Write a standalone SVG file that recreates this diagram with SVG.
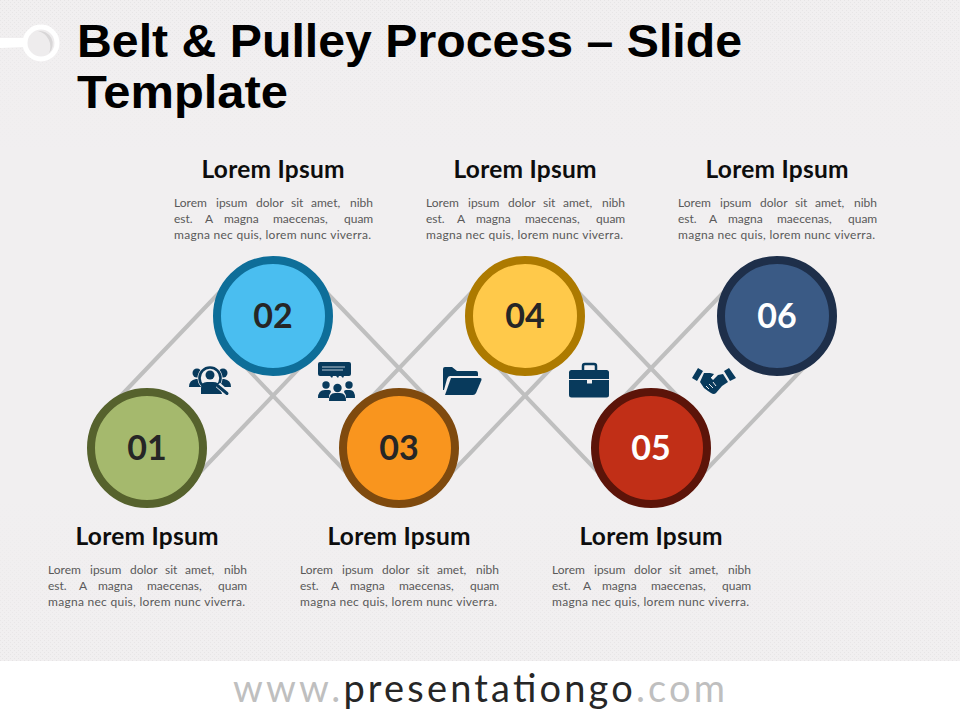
<svg xmlns="http://www.w3.org/2000/svg" width="960" height="720" viewBox="0 0 960 720">
<style>
.title{font:bold 47px "Liberation Sans",Arial,sans-serif;fill:#000}
.head{font:bold 24.5px Lato,"Noto Sans",sans-serif;fill:#0d0d0d;text-anchor:middle}
.body{font:12px Lato,"Noto Sans",sans-serif;fill:#595959}
.num{font:bold 34px Lato,"Noto Sans",sans-serif;fill:#262626;text-anchor:middle}
.belt{stroke:#bfbfbf;stroke-width:4;fill:none}
.ic{fill:#083a5c}
.cut{stroke:#f1eff0;fill:none}
.ring{stroke-width:8}
</style>
<defs>
<pattern id="dots" width="4" height="4" patternUnits="userSpaceOnUse"><rect width="1" height="1" fill="#e6e4e5"/><rect x="2" y="2" width="1" height="1" fill="#e6e4e5"/></pattern>
<linearGradient id="fadeTop" x1="0" y1="0" x2="0" y2="1"><stop offset="0" stop-color="#fff"/><stop offset="1" stop-color="#000"/></linearGradient>
<linearGradient id="fadeBot" x1="0" y1="0" x2="0" y2="1"><stop offset="0" stop-color="#000"/><stop offset="1" stop-color="#fff"/></linearGradient>
<mask id="mTop"><rect width="960" height="150" fill="url(#fadeTop)"/></mask>
<mask id="mBot"><rect y="500" width="960" height="161" fill="url(#fadeBot)"/></mask>
</defs>
<rect width="960" height="720" fill="#f1eff0"/>
<rect width="960" height="150" fill="url(#dots)" mask="url(#mTop)"/>
<rect y="500" width="960" height="161" fill="url(#dots)" mask="url(#mBot)"/>
<rect y="661" width="960" height="59" fill="#fff"/>

<g id="pulley">
<path d="M0 38L24 38L24 47L0 48Z" fill="#fff"/>
<circle cx="41" cy="43" r="16" fill="#eeeced" stroke="#fff" stroke-width="5"/>
<path d="M38 31A13 13 0 0 1 49 53A16 16 0 0 0 38 31Z" fill="#d8d6d7"/>
</g>
<text class="title" x="77" y="57" textLength="665" lengthAdjust="spacingAndGlyphs">Belt &amp; Pulley Process – Slide</text>
<text class="title" x="77" y="108" textLength="211" lengthAdjust="spacingAndGlyphs">Template</text>

<g id="connectors" class="belt">
<path d="M107.2 410L233.2 278M186.8 486L312.8 354"/>
<path d="M312.8 278L438.8 410M233.2 354L359.2 486"/>
<path d="M359.2 410L485.2 278M438.8 486L564.8 354"/>
<path d="M564.8 278L690.8 410M485.2 354L611.2 486"/>
<path d="M611.2 410L737.2 278M690.8 486L816.8 354"/>
</g>

<g id="node-01">
<circle class="ring" cx="147" cy="448" r="56" fill="#a5b96d" stroke="#56622d"/>
<text class="num" x="147" y="460">01</text>
<text class="head" x="147" y="545" textLength="143">Lorem Ipsum</text>
<text class="body" y="574"><tspan x="48">Lorem </tspan><tspan x="90">ipsum </tspan><tspan x="130">dolor </tspan><tspan x="165">sit </tspan><tspan x="185">amet, </tspan><tspan x="224">nibh</tspan></text>
<text class="body" y="590"><tspan x="48">est. </tspan><tspan x="79">A </tspan><tspan x="98">magna </tspan><tspan x="147">maecenas, </tspan><tspan x="218">quam</tspan></text>
<text class="body" x="48" y="606" textLength="197">magna nec quis, lorem nunc viverra.</text>
</g>
<g id="node-02">
<circle class="ring" cx="273" cy="316" r="56" fill="#4abef0" stroke="#0e6e99"/>
<text class="num" x="273" y="328">02</text>
<text class="head" x="273" y="178" textLength="143">Lorem Ipsum</text>
<text class="body" y="207"><tspan x="174">Lorem </tspan><tspan x="216">ipsum </tspan><tspan x="256">dolor </tspan><tspan x="291">sit </tspan><tspan x="311">amet, </tspan><tspan x="350">nibh</tspan></text>
<text class="body" y="223"><tspan x="174">est. </tspan><tspan x="205">A </tspan><tspan x="224">magna </tspan><tspan x="273">maecenas, </tspan><tspan x="344">quam</tspan></text>
<text class="body" x="174" y="239" textLength="197">magna nec quis, lorem nunc viverra.</text>
</g>
<g id="node-03">
<circle class="ring" cx="399" cy="448" r="56" fill="#f9951e" stroke="#7f4a0e"/>
<text class="num" x="399" y="460">03</text>
<text class="head" x="399" y="545" textLength="143">Lorem Ipsum</text>
<text class="body" y="574"><tspan x="300">Lorem </tspan><tspan x="342">ipsum </tspan><tspan x="382">dolor </tspan><tspan x="417">sit </tspan><tspan x="437">amet, </tspan><tspan x="476">nibh</tspan></text>
<text class="body" y="590"><tspan x="300">est. </tspan><tspan x="331">A </tspan><tspan x="350">magna </tspan><tspan x="399">maecenas, </tspan><tspan x="470">quam</tspan></text>
<text class="body" x="300" y="606" textLength="197">magna nec quis, lorem nunc viverra.</text>
</g>
<g id="node-04">
<circle class="ring" cx="525" cy="316" r="56" fill="#ffc94a" stroke="#ad7a00"/>
<text class="num" x="525" y="328">04</text>
<text class="head" x="525" y="178" textLength="143">Lorem Ipsum</text>
<text class="body" y="207"><tspan x="426">Lorem </tspan><tspan x="468">ipsum </tspan><tspan x="508">dolor </tspan><tspan x="543">sit </tspan><tspan x="563">amet, </tspan><tspan x="602">nibh</tspan></text>
<text class="body" y="223"><tspan x="426">est. </tspan><tspan x="457">A </tspan><tspan x="476">magna </tspan><tspan x="525">maecenas, </tspan><tspan x="596">quam</tspan></text>
<text class="body" x="426" y="239" textLength="197">magna nec quis, lorem nunc viverra.</text>
</g>
<g id="node-05">
<circle class="ring" cx="651" cy="448" r="56" fill="#c12f17" stroke="#5c1409"/>
<text class="num" x="651" y="460" style="fill:#fff">05</text>
<text class="head" x="651" y="545" textLength="143">Lorem Ipsum</text>
<text class="body" y="574"><tspan x="552">Lorem </tspan><tspan x="594">ipsum </tspan><tspan x="634">dolor </tspan><tspan x="669">sit </tspan><tspan x="689">amet, </tspan><tspan x="728">nibh</tspan></text>
<text class="body" y="590"><tspan x="552">est. </tspan><tspan x="583">A </tspan><tspan x="602">magna </tspan><tspan x="651">maecenas, </tspan><tspan x="722">quam</tspan></text>
<text class="body" x="552" y="606" textLength="197">magna nec quis, lorem nunc viverra.</text>
</g>
<g id="node-06">
<circle class="ring" cx="777" cy="316" r="56" fill="#3a5a85" stroke="#1e2f4a"/>
<text class="num" x="777" y="328" style="fill:#fff">06</text>
<text class="head" x="777" y="178" textLength="143">Lorem Ipsum</text>
<text class="body" y="207"><tspan x="678">Lorem </tspan><tspan x="720">ipsum </tspan><tspan x="760">dolor </tspan><tspan x="795">sit </tspan><tspan x="815">amet, </tspan><tspan x="854">nibh</tspan></text>
<text class="body" y="223"><tspan x="678">est. </tspan><tspan x="709">A </tspan><tspan x="728">magna </tspan><tspan x="777">maecenas, </tspan><tspan x="848">quam</tspan></text>
<text class="body" x="678" y="239" textLength="197">magna nec quis, lorem nunc viverra.</text>
</g>

<g id="icon-search">
<circle class="ic" cx="197" cy="373" r="4.5"/><circle class="ic" cx="223" cy="373" r="4.5"/>
<path class="ic" d="M189 387Q189 380 196 379L202 379L204 387ZM231 387Q231 380 224 379L218 379L216 387Z"/>
<circle cx="210" cy="378" r="12.5" fill="#f1eff0"/>
<circle cx="210" cy="378" r="10.5" fill="none" stroke="#083a5c" stroke-width="2.6"/>
<circle class="ic" cx="210" cy="375" r="4.5"/>
<path class="ic" d="M201 394L201 388Q201 382 207 382L213 382Q219 382 220 387L222 394Z"/>
<path d="M218 385L227 393" stroke="#f1eff0" stroke-width="6" fill="none"/>
<path d="M218 386L227 393.500" stroke="#083a5c" stroke-width="3" stroke-linecap="round" fill="none"/>
</g>
<g id="icon-chat">
<path class="ic" d="M320 362L349 362Q351 362 351 364L351 374Q351 376 349 376L344 376L343 378L341 376L339 376L338 378L336 376L333 376L332 378L330 376L320 376Q318 376 318 374L318 364Q318 362 320 362Z"/>
<path d="M322 367H345M322 370H343" stroke="#b9c8d3" stroke-width="1" fill="none"/>
<circle class="ic" cx="326" cy="385" r="3.700"/><circle class="ic" cx="349" cy="385" r="3.700"/><circle class="ic" cx="337.500" cy="388" r="4.200"/>
<path class="ic" d="M318 398Q318 390 325 390L329 390Q331 390 331 392Q329 394 329 398ZM355 398Q355 390 350 390L346 390Q344 390 344 392Q346 394 346 398Z"/>
<path class="ic" d="M329 401Q329 393 335 393L340 393Q346 393 346 401Z"/>
</g>
<g id="icon-folder">
<path class="ic" d="M443 369Q443 367 445 367L452 367L457 371L476 371Q478 371 478 373L478 376L450 376Q448 376 447 379L444 390L443 390Z"/>
<path class="ic" d="M451 378L480 378Q482 378 481.500 380L476 393Q475 395 473 395L445 395Z"/>
</g>
<g id="icon-briefcase">
<path d="M583 371L583 366Q583 364 585 364L594 364Q596 364 596 366L596 371" fill="none" stroke="#083a5c" stroke-width="2.500"/>
<rect class="ic" x="569" y="370" width="40" height="27.500" rx="2.500"/>
<path class="cut" d="M569 379.500H609" stroke-width="1.200"/>
<rect x="587" y="379" width="5" height="4.500" fill="#f1eff0"/>
</g>
<g id="icon-handshake">
<path class="ic" d="M698 368L703 371L697 381L692 378ZM729 368L724 371L730 381L736 378Z"/>
<path class="ic" d="M704 373L710 373L714 374L711 378L713 380L718 375L723 374L728 382L722 386L716 393Q714 395 711 393L708 391L704 388L700 382Z"/>
<path d="M711 378L716 373L723 373M706 386L709 389M709 384L713 388M713 382L716 386" fill="none" stroke="#f1eff0" stroke-width="1"/>
</g>

<text id="footer" x="233" y="702" textLength="492" style="font:38px Lato,'Noto Sans',sans-serif;fill:#bfbfbf">www.<tspan fill="#262626">presentationgo</tspan>.com</text>
</svg>
